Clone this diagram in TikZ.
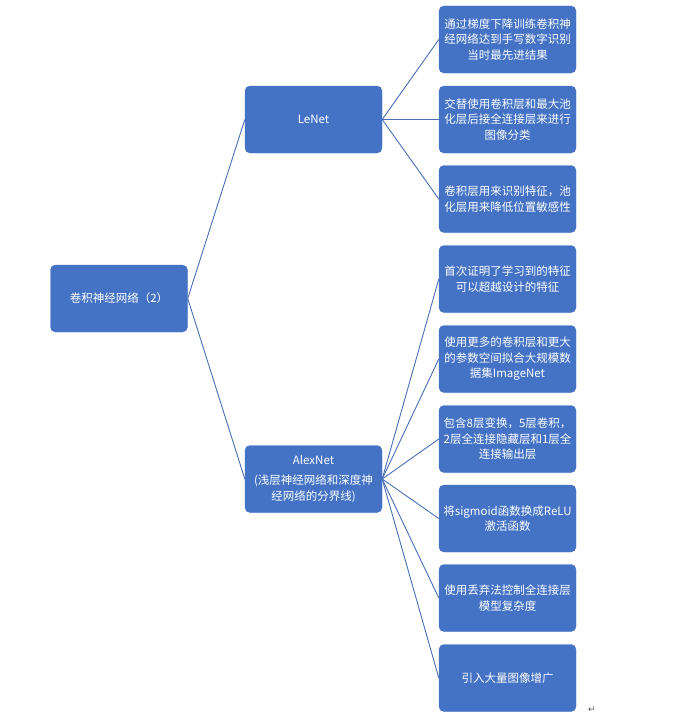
\documentclass[tikz,border=0pt]{standalone}
\usepackage{fontspec}
\setmainfont{Noto Sans CJK SC}
\newfontfamily\symfont{DejaVu Sans}
\definecolor{boxblue}{HTML}{4472C4}
\definecolor{lineblue}{HTML}{4A6EB4}
\tikzset{
  box/.style={fill=boxblue, draw=boxblue, rounded corners=5pt, minimum width=137pt, minimum height=67pt,
    inner sep=1pt, text=white, align=center, font=\fontsize{11.5}{15.5}\selectfont},
  conn/.style={draw=lineblue, line width=0.9pt}
}
\begin{document}
\begin{tikzpicture}[x=1pt,y=-1pt]
\useasboundingbox (0,0) rectangle (683,717);
\node[box] (root) at (119,298.5) {卷积神经网络（2）};
\node[box] (lenet) at (313.5,119.5) {LeNet};
\node[box] (alex) at (313.5,479) {AlexNet\\[5pt](浅层神经网络和深度神\\经网络的分界线)};
\node[box] (b1) at (507.5,39.5) {通过梯度下降训练卷积神\\经网络达到手写数字识别\\当时最先进结果};
\node[box] (b2) at (507.5,119.5) {交替使用卷积层和最大池\\化层后接全连接层来进行\\图像分类};
\node[box] (b3) at (507.5,199) {卷积层用来识别特征，池\\化层用来降低位置敏感性};
\node[box] (b4) at (507.5,279) {首次证明了学习到的特征\\可以超越设计的特征};
\node[box] (b5) at (507.5,359) {使用更多的卷积层和更大\\的参数空间拟合大规模数\\据集ImageNet};
\node[box] (b6) at (507.5,439) {包含8层变换，5层卷积，\\2层全连接隐藏层和1层全\\连接输出层};
\node[box] (b7) at (507.5,518.5) {将sigmoid函数换成ReLU\\激活函数};
\node[box] (b8) at (507.5,598) {使用丢弃法控制全连接层\\模型复杂度};
\node[box] (b9) at (507.5,678) {引入大量图像增广};
\node[text=black!65, inner sep=0pt, font=\symfont\fontsize{9}{9}\selectfont] (ret) at (592,710) {↵};
\draw[conn] (root.east) -- (lenet.west);
\draw[conn] (root.east) -- (alex.west);
\foreach \b in {b1,b2,b3} \draw[conn] (lenet.east) -- (\b.west);
\foreach \b in {b4,b5,b6,b7,b8,b9} \draw[conn] (alex.east) -- (\b.west);
\end{tikzpicture}
\end{document}
